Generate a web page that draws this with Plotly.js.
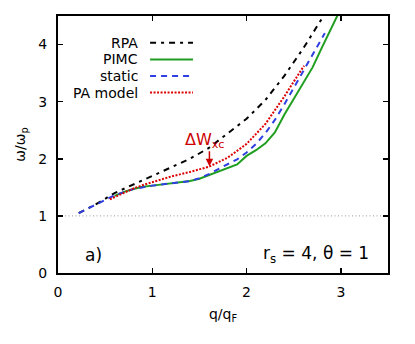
<!DOCTYPE html>
<html>
<head>
<meta charset="utf-8">
<script src="https://cdn.plot.ly/plotly-3.0.1.min.js"></script>
<style>
  html, body { margin: 0; padding: 0; background: #fff; }
  #chart { width: 415px; height: 344px; }
</style>
</head>
<body>
<div id="chart"></div>
<script>
// wavenumber q/q_F and plasmon frequency w/w_p for each curve
const qRPA = [0.22, 0.4, 0.6, 0.8, 1.0, 1.2, 1.4, 1.6, 1.8, 2.0, 2.2, 2.4, 2.6, 2.8, 2.9];
const wRPA = [1.05, 1.2, 1.40, 1.55, 1.69, 1.84, 2.00, 2.19, 2.44, 2.70, 3.03, 3.45, 3.93, 4.45, 4.72];

const qPIMC = [0.6, 0.7, 0.8, 0.9, 1.0, 1.1, 1.2, 1.3, 1.4, 1.5, 1.6, 1.7, 1.8, 1.9, 2.0,
               2.1, 2.2, 2.3, 2.4, 2.5, 2.6, 2.7, 2.8, 2.9, 2.97];
const wPIMC = [1.35, 1.42, 1.47, 1.51, 1.53, 1.55, 1.56, 1.58, 1.61, 1.65, 1.71, 1.78, 1.83, 1.90, 2.05,
               2.15, 2.27, 2.46, 2.77, 3.05, 3.31, 3.60, 3.95, 4.29, 4.53];

const qStatic = [0.22, 0.4, 0.6, 0.8, 1.0, 1.2, 1.4, 1.5, 1.6, 1.7, 1.8, 1.9, 2.0, 2.1,
                 2.2, 2.3, 2.4, 2.5, 2.6, 2.7, 2.83];
const wStatic = [1.05, 1.2, 1.36, 1.47, 1.53, 1.57, 1.61, 1.66, 1.73, 1.82, 1.90, 1.99, 2.11, 2.26,
                 2.45, 2.68, 2.95, 3.24, 3.52, 3.80, 4.2];

const qPA = [0.55, 0.7, 0.8, 0.9, 1.0, 1.2, 1.4, 1.6, 1.8, 2.0, 2.2, 2.3, 2.4, 2.5, 2.61];
const wPA = [1.29, 1.41, 1.48, 1.54, 1.59, 1.69, 1.77, 1.86, 2.02, 2.26, 2.61, 2.84, 3.09, 3.35, 3.63];

const names = ['RPA', 'PIMC', 'static', 'PA model'];
const colors = ['#000000', '#1f9e1f', '#2f3fe0', '#dd0000'];
const dashes = ['6px,5px,3px,5px', 'solid', '6px,5px', '2px,1.5px'];

const font = 'DejaVu Sans, sans-serif';

const traces = [
  {x: qRPA, y: wRPA},
  {x: qPIMC, y: wPIMC},
  {x: qStatic, y: wStatic},
  {x: qPA, y: wPA}
].map((t, i) => ({
  x: t.x, y: t.y, type: 'scatter', mode: 'lines', name: names[i],
  line: {color: colors[i], width: 2, dash: dashes[i]},
  showlegend: false, hoverinfo: 'skip'
}));

// hand-made legend, text to the left of the sample line (gnuplot style)
const legX = 0.2485, legY = [0.896, 0.831, 0.767, 0.702];
const annotations = names.map((n, i) => ({
  xref: 'paper', yref: 'paper', x: legX, y: legY[i], xanchor: 'right', yanchor: 'middle',
  text: n, showarrow: false, font: {family: font, size: 14, color: '#000'}
}));
const shapes = names.map((n, i) => ({
  type: 'line', xref: 'paper', yref: 'paper', x0: 0.279, x1: 0.409, y0: legY[i], y1: legY[i],
  line: {color: colors[i], width: 2, dash: dashes[i]}
}));

// dotted reference line at w = w_p
shapes.push({
  type: 'line', xref: 'paper', yref: 'y', x0: 0, x1: 1, y0: 1, y1: 1,
  line: {color: '#999', width: 1, dash: '1px,2.5px'}, layer: 'below'
});

annotations.push(
  {x: 0.27, y: 0.31, xref: 'x', yref: 'y', xanchor: 'left', yanchor: 'middle',
   text: 'a)', showarrow: false, font: {family: font, size: 17, color: '#000'}},
  {x: 3.32, y: 0.33, xref: 'x', yref: 'y', xanchor: 'right', yanchor: 'middle',
   text: 'r<sub>s</sub> = 4, θ = 1', showarrow: false, font: {family: font, size: 17, color: '#000'}},
  {x: 1.33, y: 2.32, xref: 'x', yref: 'y', xanchor: 'left', yanchor: 'middle',
   text: 'ΔW<sub>xc</sub>', showarrow: false, font: {family: font, size: 16, color: '#cc0000'}},
  {x: 1.606, y: 1.87, ax: 1.606, ay: 2.16, xref: 'x', yref: 'y', axref: 'x', ayref: 'y',
   text: '', showarrow: true, arrowhead: 2, arrowsize: 1, arrowwidth: 1.5,
   arrowcolor: '#cc0000', standoff: 0, startstandoff: 0}
);

const axisBase = {
  showline: true, linecolor: '#000', linewidth: 2, mirror: 'ticks',
  ticks: 'inside', ticklen: 5, tickwidth: 1.5, tickcolor: '#000',
  showgrid: false, zeroline: false, automargin: false,
  tickfont: {family: font, size: 14, color: '#000'}
};

const layout = {
  width: 415, height: 344,
  margin: {l: 58, r: 27, t: 16, b: 71},
  paper_bgcolor: '#fff', plot_bgcolor: '#fff',
  font: {family: font, size: 14, color: '#000'},
  xaxis: Object.assign({}, axisBase, {
    range: [0, 3.5], tickvals: [0, 1, 2, 3], ticklabelstandoff: 5,
    title: {text: 'q/q<sub>F</sub>', standoff: 10, font: {family: font, size: 14}}
  }),
  yaxis: Object.assign({}, axisBase, {
    range: [0, 4.5], tickvals: [0, 1, 2, 3, 4], ticklabelstandoff: 6,
    title: {text: 'ω/ω<sub>p</sub>', standoff: 9, font: {family: font, size: 14}}
  }),
  shapes: shapes,
  annotations: annotations
};

Plotly.newPlot('chart', traces, layout, {staticPlot: true, displayModeBar: false});
</script>
</body>
</html>
